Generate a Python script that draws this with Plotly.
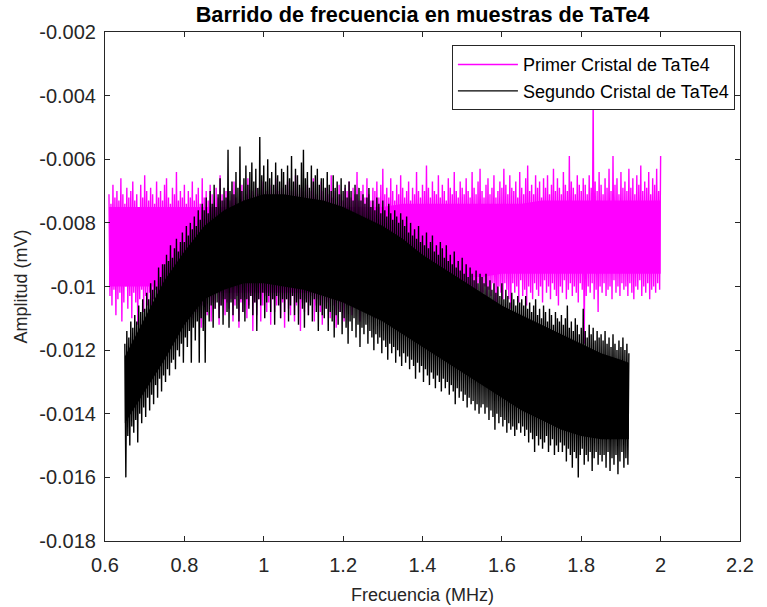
import numpy as np
import plotly.graph_objects as go

# ---------------- data ----------------
# Sweep ranges (MHz)
freq_start_1, freq_end_1 = 0.61, 2.00   # Primer Cristal
freq_start_2, freq_end_2 = 0.65, 1.92   # Segundo Cristal

# Primer Cristal: noise peaks (every 0.005 MHz from 0.61) and troughs (every 0.005 MHz from 0.6125), mV
peaks_1 = [
    -0.0071,-0.0074,-0.0068,-0.0072,-0.0070,-0.0073,-0.0066,-0.0071,-0.0074,-0.0069,-0.0072,-0.0070,-0.0067,-0.0073,-0.0071,-0.0075,-0.0068,-0.0072,-0.0065,-0.0070,
    -0.0073,-0.0069,-0.0071,-0.0074,-0.0067,-0.0072,-0.0070,-0.0073,-0.0068,-0.0066,-0.0072,-0.0074,-0.0069,-0.0071,-0.0064,-0.0073,-0.0070,-0.0072,-0.0068,-0.0074,
    -0.0070,-0.0072,-0.0067,-0.0073,-0.0071,-0.0069,-0.0074,-0.0066,-0.0072,-0.0070,-0.0073,-0.0068,-0.0071,-0.0074,-0.0069,-0.0072,-0.0065,-0.0071,-0.0073,-0.0070,
    -0.0069,-0.0073,-0.0071,-0.0067,-0.0072,-0.0074,-0.0070,-0.0068,-0.0073,-0.0071,-0.0066,-0.0072,-0.0070,-0.0074,-0.0069,-0.0071,-0.0073,-0.0067,-0.0072,-0.0070,
    -0.0072,-0.0068,-0.0071,-0.0074,-0.0066,-0.0070,-0.0073,-0.0069,-0.0072,-0.0071,-0.0067,-0.0074,-0.0070,-0.0072,-0.0065,-0.0071,-0.0073,-0.0069,-0.0070,-0.0072,
    -0.0068,-0.0073,-0.0070,-0.0066,-0.0072,-0.0071,-0.0074,-0.0067,-0.0070,-0.0073,-0.0069,-0.0071,-0.0065,-0.0072,-0.0070,-0.0074,-0.0068,-0.0071,-0.0073,-0.0069,
    -0.0070,-0.0067,-0.0072,-0.0069,-0.0071,-0.0064,-0.0073,-0.0070,-0.0068,-0.0072,-0.0066,-0.0071,-0.0073,-0.0069,-0.0070,-0.0067,-0.0072,-0.0068,-0.0063,-0.0071,
    -0.0069,-0.0072,-0.0066,-0.0070,-0.0073,-0.0068,-0.0071,-0.0065,-0.0069,-0.0072,-0.0070,-0.0067,-0.0073,-0.0069,-0.0071,-0.0064,-0.0070,-0.0072,-0.0068,-0.0070,
    -0.0062,-0.0069,-0.0072,-0.0067,-0.0070,-0.0071,-0.0065,-0.0072,-0.0068,-0.0070,-0.0073,-0.0066,-0.0069,-0.0071,-0.0064,-0.0070,-0.0072,-0.0067,-0.0069,-0.0071,
    -0.0066,-0.0070,-0.0072,-0.0064,-0.0069,-0.0071,-0.0067,-0.0063,-0.0070,-0.0072,-0.0068,-0.0066,-0.0071,-0.0069,-0.0065,-0.0072,-0.0070,-0.0067,-0.0069,-0.0063,
    -0.0068,-0.0071,-0.0065,-0.0069,-0.0070,-0.0067,-0.0072,-0.0064,-0.0069,-0.0071,-0.0066,-0.0062,-0.0070,-0.0068,-0.0071,-0.0065,-0.0069,-0.0067,-0.0072,-0.0066,
    -0.0069,-0.0065,-0.0071,-0.0068,-0.0063,-0.0070,-0.0066,-0.0069,-0.0071,-0.0064,-0.0068,-0.0070,-0.0059,-0.0067,-0.0069,-0.0071,-0.0065,-0.0068,-0.0070,-0.0066,
    -0.0068,-0.0071,-0.0065,-0.0069,-0.0041,-0.0067,-0.0070,-0.0064,-0.0068,-0.0071,-0.0066,-0.0069,-0.0063,-0.0070,-0.0059,-0.0068,-0.0066,-0.0071,-0.0064,-0.0069,
    -0.0067,-0.0070,-0.0063,-0.0069,-0.0066,-0.0071,-0.0065,-0.0068,-0.0062,-0.0070,-0.0067,-0.0069,-0.0064,-0.0071,-0.0066,-0.0068,-0.0063,-0.0070,-0.0059,
]
troughs_1 = [
    -0.0103,-0.0106,-0.0101,-0.0109,-0.0104,-0.0102,-0.0111,-0.0105,-0.0100,-0.0107,-0.0103,-0.0110,-0.0102,-0.0105,-0.0112,-0.0104,-0.0101,-0.0108,-0.0103,-0.0106,
    -0.0102,-0.0109,-0.0104,-0.0101,-0.0107,-0.0111,-0.0103,-0.0105,-0.0100,-0.0108,-0.0104,-0.0102,-0.0110,-0.0106,-0.0103,-0.0109,-0.0101,-0.0105,-0.0112,-0.0104,
    -0.0106,-0.0103,-0.0110,-0.0105,-0.0108,-0.0102,-0.0113,-0.0106,-0.0104,-0.0109,-0.0103,-0.0111,-0.0105,-0.0107,-0.0102,-0.0112,-0.0106,-0.0104,-0.0109,-0.0105,
    -0.0107,-0.0104,-0.0111,-0.0106,-0.0103,-0.0113,-0.0105,-0.0108,-0.0104,-0.0110,-0.0106,-0.0103,-0.0114,-0.0105,-0.0109,-0.0104,-0.0111,-0.0106,-0.0103,-0.0108,
    -0.0105,-0.0112,-0.0104,-0.0108,-0.0106,-0.0103,-0.0110,-0.0105,-0.0113,-0.0104,-0.0107,-0.0109,-0.0103,-0.0111,-0.0106,-0.0104,-0.0114,-0.0105,-0.0108,-0.0104,
    -0.0109,-0.0105,-0.0103,-0.0111,-0.0106,-0.0104,-0.0108,-0.0112,-0.0103,-0.0107,-0.0105,-0.0110,-0.0104,-0.0106,-0.0113,-0.0103,-0.0108,-0.0105,-0.0111,-0.0104,
    -0.0106,-0.0102,-0.0109,-0.0104,-0.0101,-0.0107,-0.0111,-0.0103,-0.0105,-0.0100,-0.0108,-0.0104,-0.0102,-0.0110,-0.0103,-0.0106,-0.0101,-0.0109,-0.0104,-0.0102,
    -0.0105,-0.0101,-0.0108,-0.0103,-0.0106,-0.0100,-0.0110,-0.0102,-0.0104,-0.0107,-0.0101,-0.0105,-0.0103,-0.0109,-0.0100,-0.0104,-0.0106,-0.0102,-0.0108,-0.0101,
    -0.0103,-0.0100,-0.0106,-0.0102,-0.0099,-0.0108,-0.0101,-0.0104,-0.0100,-0.0103,-0.0107,-0.0101,-0.0099,-0.0105,-0.0102,-0.0100,-0.0106,-0.0101,-0.0104,-0.0099,
    -0.0102,-0.0105,-0.0100,-0.0103,-0.0107,-0.0101,-0.0099,-0.0104,-0.0102,-0.0100,-0.0106,-0.0101,-0.0103,-0.0099,-0.0105,-0.0107,-0.0100,-0.0102,-0.0104,-0.0099,
    -0.0101,-0.0104,-0.0107,-0.0099,-0.0102,-0.0100,-0.0105,-0.0098,-0.0103,-0.0101,-0.0106,-0.0100,-0.0102,-0.0104,-0.0099,-0.0101,-0.0103,-0.0100,-0.0105,-0.0098,
    -0.0102,-0.0100,-0.0104,-0.0099,-0.0101,-0.0103,-0.0106,-0.0100,-0.0102,-0.0098,-0.0104,-0.0101,-0.0099,-0.0103,-0.0100,-0.0102,-0.0105,-0.0099,-0.0101,-0.0118,
    -0.0103,-0.0100,-0.0102,-0.0099,-0.0104,-0.0101,-0.0108,-0.0100,-0.0102,-0.0099,-0.0103,-0.0101,-0.0100,-0.0104,-0.0098,-0.0102,-0.0100,-0.0103,-0.0099,-0.0101,
    -0.0100,-0.0103,-0.0099,-0.0102,-0.0104,-0.0100,-0.0101,-0.0098,-0.0103,-0.0100,-0.0102,-0.0099,-0.0104,-0.0101,-0.0100,-0.0102,-0.0099,-0.0101,
]

# Segundo Cristal: noise peaks (every 0.005 MHz from 0.65) and troughs (every 0.005 MHz from 0.6525), mV
peaks_2 = [
    -0.0118,-0.0114,-0.0116,-0.0111,-0.0113,-0.0109,-0.0111,-0.0106,-0.0108,-0.0104,-0.0107,-0.0102,-0.0104,-0.0099,-0.0101,-0.0098,-0.0100,-0.0094,-0.0097,-0.0093,
    -0.0093,-0.0090,-0.0092,-0.0087,-0.0091,-0.0088,-0.0085,-0.0089,-0.0086,-0.0083,-0.0086,-0.0081,-0.0084,-0.0080,-0.0082,-0.0078,-0.0081,-0.0076,-0.0079,-0.0074,
    -0.0076,-0.0072,-0.0077,-0.0070,-0.0074,-0.0068,-0.0075,-0.0071,-0.0066,-0.0073,-0.0069,-0.0072,-0.0057,-0.0070,-0.0067,-0.0071,-0.0064,-0.0069,-0.0056,-0.0070,
    -0.0066,-0.0062,-0.0068,-0.0064,-0.0061,-0.0067,-0.0063,-0.0069,-0.0053,-0.0065,-0.0062,-0.0067,-0.0060,-0.0066,-0.0064,-0.0068,-0.0061,-0.0065,-0.0067,-0.0063,
    -0.0064,-0.0068,-0.0062,-0.0066,-0.0059,-0.0067,-0.0063,-0.0065,-0.0068,-0.0061,-0.0057,-0.0066,-0.0064,-0.0069,-0.0062,-0.0067,-0.0065,-0.0063,-0.0068,-0.0066,
    -0.0066,-0.0069,-0.0064,-0.0068,-0.0070,-0.0065,-0.0069,-0.0067,-0.0071,-0.0066,-0.0070,-0.0068,-0.0072,-0.0067,-0.0070,-0.0073,-0.0068,-0.0071,-0.0069,-0.0073,
    -0.0071,-0.0074,-0.0072,-0.0069,-0.0075,-0.0073,-0.0076,-0.0072,-0.0074,-0.0077,-0.0073,-0.0076,-0.0078,-0.0074,-0.0077,-0.0079,-0.0076,-0.0078,-0.0080,-0.0077,
    -0.0079,-0.0081,-0.0078,-0.0083,-0.0080,-0.0084,-0.0082,-0.0085,-0.0081,-0.0086,-0.0084,-0.0087,-0.0083,-0.0088,-0.0086,-0.0084,-0.0089,-0.0087,-0.0090,-0.0086,
    -0.0088,-0.0091,-0.0087,-0.0092,-0.0090,-0.0093,-0.0089,-0.0094,-0.0092,-0.0095,-0.0091,-0.0096,-0.0093,-0.0097,-0.0094,-0.0096,-0.0098,-0.0095,-0.0099,-0.0096,
    -0.0097,-0.0099,-0.0096,-0.0100,-0.0098,-0.0101,-0.0099,-0.0102,-0.0100,-0.0103,-0.0099,-0.0104,-0.0101,-0.0103,-0.0105,-0.0102,-0.0104,-0.0106,-0.0103,-0.0105,
    -0.0104,-0.0106,-0.0103,-0.0107,-0.0105,-0.0108,-0.0106,-0.0104,-0.0109,-0.0107,-0.0110,-0.0106,-0.0108,-0.0111,-0.0107,-0.0109,-0.0112,-0.0108,-0.0110,-0.0111,
    -0.0109,-0.0112,-0.0110,-0.0106,-0.0113,-0.0111,-0.0114,-0.0110,-0.0112,-0.0115,-0.0113,-0.0107,-0.0114,-0.0116,-0.0112,-0.0115,-0.0113,-0.0117,-0.0114,-0.0116,
    -0.0115,-0.0117,-0.0114,-0.0118,-0.0116,-0.0119,-0.0115,-0.0118,-0.0120,-0.0117,-0.0119,-0.0116,-0.0120,-0.0118,-0.0121,
]
troughs_2 = [
    -0.0160,-0.0147,-0.0150,-0.0144,-0.0146,-0.0142,-0.0149,-0.0140,-0.0143,-0.0138,-0.0141,-0.0135,-0.0139,-0.0134,-0.0137,-0.0131,-0.0135,-0.0129,-0.0133,-0.0128,
    -0.0130,-0.0126,-0.0128,-0.0124,-0.0123,-0.0126,-0.0120,-0.0122,-0.0118,-0.0124,-0.0116,-0.0119,-0.0114,-0.0124,-0.0113,-0.0117,-0.0111,-0.0124,-0.0110,-0.0114,
    -0.0124,-0.0108,-0.0111,-0.0106,-0.0113,-0.0107,-0.0105,-0.0110,-0.0106,-0.0112,-0.0104,-0.0108,-0.0113,-0.0105,-0.0109,-0.0104,-0.0107,-0.0111,-0.0104,-0.0108,
    -0.0111,-0.0104,-0.0107,-0.0103,-0.0109,-0.0105,-0.0114,-0.0104,-0.0106,-0.0102,-0.0110,-0.0105,-0.0103,-0.0108,-0.0104,-0.0112,-0.0103,-0.0106,-0.0110,-0.0104,
    -0.0108,-0.0104,-0.0111,-0.0106,-0.0103,-0.0109,-0.0105,-0.0112,-0.0104,-0.0107,-0.0113,-0.0105,-0.0109,-0.0106,-0.0111,-0.0104,-0.0108,-0.0114,-0.0106,-0.0109,
    -0.0110,-0.0107,-0.0114,-0.0108,-0.0111,-0.0116,-0.0109,-0.0112,-0.0108,-0.0115,-0.0110,-0.0113,-0.0118,-0.0111,-0.0114,-0.0110,-0.0116,-0.0112,-0.0119,-0.0113,
    -0.0115,-0.0112,-0.0118,-0.0114,-0.0116,-0.0120,-0.0115,-0.0118,-0.0116,-0.0121,-0.0117,-0.0119,-0.0123,-0.0118,-0.0121,-0.0119,-0.0124,-0.0120,-0.0122,-0.0125,
    -0.0121,-0.0124,-0.0122,-0.0126,-0.0123,-0.0125,-0.0129,-0.0124,-0.0127,-0.0125,-0.0130,-0.0126,-0.0128,-0.0131,-0.0127,-0.0129,-0.0132,-0.0128,-0.0130,-0.0133,
    -0.0129,-0.0132,-0.0130,-0.0134,-0.0131,-0.0133,-0.0137,-0.0132,-0.0135,-0.0133,-0.0136,-0.0134,-0.0138,-0.0135,-0.0137,-0.0136,-0.0139,-0.0137,-0.0140,-0.0138,
    -0.0137,-0.0140,-0.0138,-0.0142,-0.0139,-0.0141,-0.0145,-0.0140,-0.0143,-0.0141,-0.0144,-0.0142,-0.0146,-0.0143,-0.0145,-0.0144,-0.0147,-0.0145,-0.0143,-0.0146,
    -0.0144,-0.0147,-0.0145,-0.0149,-0.0146,-0.0148,-0.0152,-0.0147,-0.0150,-0.0148,-0.0151,-0.0149,-0.0147,-0.0152,-0.0150,-0.0148,-0.0153,-0.0150,-0.0152,-0.0149,
    -0.0152,-0.0150,-0.0155,-0.0151,-0.0153,-0.0157,-0.0152,-0.0154,-0.0160,-0.0153,-0.0151,-0.0156,-0.0153,-0.0155,-0.0152,-0.0158,-0.0154,-0.0152,-0.0156,-0.0153,
    -0.0155,-0.0153,-0.0157,-0.0152,-0.0158,-0.0154,-0.0156,-0.0153,-0.0159,-0.0155,-0.0152,-0.0157,-0.0154,-0.0156,
]

# Dense (solid) core of each noisy trace: upper / lower edge every 0.05 MHz
core_freq_1 = [0.61, 0.65, 0.70, 0.75, 0.80, 0.85, 0.90, 0.95, 1.00, 1.05, 1.10, 1.15, 1.20, 1.25, 1.30,
               1.35, 1.40, 1.45, 1.50, 1.55, 1.60, 1.65, 1.70, 1.75, 1.80, 1.85, 1.90, 1.95, 2.00]
core_hi_1 = [-0.0075, -0.0075, -0.0075, -0.0075, -0.0075, -0.0075, -0.0075, -0.0075, -0.0075, -0.0075,
             -0.0075, -0.0075, -0.0075, -0.0075, -0.0075, -0.0074, -0.0074, -0.0074, -0.0074, -0.0074,
             -0.0074, -0.0074, -0.0073, -0.0073, -0.0073, -0.0073, -0.0073, -0.0073, -0.0073]
core_lo_1 = [-0.0100, -0.0100, -0.0100, -0.0100, -0.0100, -0.0102, -0.0102, -0.0102, -0.0102, -0.0102,
             -0.0102, -0.0102, -0.0102, -0.0100, -0.0099, -0.0099, -0.0098, -0.0097, -0.0097, -0.0097,
             -0.0096, -0.0096, -0.0096, -0.0096, -0.0096, -0.0096, -0.0096, -0.0096, -0.0096]

core_freq_2 = [0.65, 0.70, 0.75, 0.80, 0.85, 0.90, 0.95, 1.00, 1.05, 1.10, 1.15, 1.20, 1.25, 1.30,
               1.35, 1.40, 1.45, 1.50, 1.55, 1.60, 1.65, 1.70, 1.75, 1.80, 1.85, 1.90, 1.92]
core_hi_2 = [-0.0122, -0.0110, -0.0098, -0.0089, -0.0081, -0.0076, -0.0073, -0.0071, -0.0071, -0.0072,
             -0.0073, -0.0075, -0.0078, -0.0081, -0.0085, -0.0090, -0.0094, -0.0098, -0.0102, -0.0106,
             -0.0109, -0.0112, -0.0115, -0.0118, -0.0121, -0.0123, -0.0124]
core_lo_2 = [-0.0143, -0.0133, -0.0123, -0.0112, -0.0104, -0.0101, -0.0099, -0.0099, -0.0100, -0.0101,
             -0.0103, -0.0105, -0.0108, -0.0111, -0.0115, -0.0119, -0.0123, -0.0127, -0.0131, -0.0135,
             -0.0139, -0.0142, -0.0145, -0.0147, -0.0148, -0.0148, -0.0148]

series_names = ["Primer Cristal de TaTe4", "Segundo Cristal de TaTe4"]
series_colors = ["#FF00FF", "#000000"]

x_ticks = [0.6, 0.8, 1.0, 1.2, 1.4, 1.6, 1.8, 2.0, 2.2]
x_ticklabels = ["0.6", "0.8", "1", "1.2", "1.4", "1.6", "1.8", "2", "2.2"]
y_ticks = [-0.018, -0.016, -0.014, -0.012, -0.010, -0.008, -0.006, -0.004, -0.002]
y_ticklabels = ["-0.018", "-0.016", "-0.014", "-0.012", "-0.01", "-0.008", "-0.006", "-0.004", "-0.002"]

# ---------------- figure ----------------
def interleave(peaks, troughs):
    out = []
    for i, p in enumerate(peaks):
        out.append(p)
        if i < len(troughs):
            out.append(troughs[i])
    return out

amp_1 = interleave(peaks_1, troughs_1)
amp_2 = interleave(peaks_2, troughs_2)
freq_1 = np.linspace(freq_start_1, freq_end_1, len(amp_1))
freq_2 = np.linspace(freq_start_2, freq_end_2, len(amp_2))

fig = go.Figure()

def add_series(freq, amp, cf, chi, clo, name, color):
    fig.add_trace(go.Scatter(
        x=list(cf) + list(cf)[::-1], y=list(chi) + list(clo)[::-1],
        mode="lines", fill="toself", fillcolor=color,
        line=dict(width=0, color=color), showlegend=False, hoverinfo="skip"))
    fig.add_trace(go.Scatter(
        x=freq, y=amp, mode="lines", name=name,
        line=dict(color=color, width=1.4)))

add_series(freq_1, amp_1, core_freq_1, core_hi_1, core_lo_1, series_names[0], series_colors[0])
add_series(freq_2, amp_2, core_freq_2, core_hi_2, core_lo_2, series_names[1], series_colors[1])

axis_color = "#262626"
font_family = "Liberation Sans, Arial, Helvetica, sans-serif"

fig.update_layout(
    width=767, height=607,
    margin=dict(l=105, r=27, t=32, b=66),
    paper_bgcolor="white", plot_bgcolor="white",
    font=dict(family=font_family, color=axis_color, size=19),
    title=dict(text="<b>Barrido de frecuencia en muestras de TaTe4</b>",
               x=0.5, xref="paper", xanchor="center",
               y=1 - 14 / 607, yref="container", yanchor="middle",
               font=dict(size=21.7, color="#000000")),
    showlegend=True,
    legend=dict(x=0.992, y=0.974, xanchor="right", yanchor="top",
                bgcolor="white", bordercolor=axis_color, borderwidth=1,
                font=dict(size=18, color="#000000"), itemwidth=60,
                tracegroupgap=0),
    xaxis=dict(
        range=[0.6, 2.2], tickvals=x_ticks, ticktext=x_ticklabels, automargin=False,
        showgrid=False, zeroline=False, showline=True, linecolor=axis_color, linewidth=1,
        mirror="ticks", ticks="inside", ticklen=5, tickcolor=axis_color,
        tickfont=dict(size=20, color=axis_color), ticklabelstandoff=6,
        title=dict(text="Frecuencia (MHz)", font=dict(size=18, color=axis_color), standoff=13),
    ),
    yaxis=dict(
        range=[-0.018, -0.002], tickvals=y_ticks, ticktext=y_ticklabels, automargin=False,
        showgrid=False, zeroline=False, showline=True, linecolor=axis_color, linewidth=1,
        mirror="ticks", ticks="inside", ticklen=5, tickcolor=axis_color,
        tickfont=dict(size=20, color=axis_color), ticklabelstandoff=4,
        title=dict(text="Amplitud (mV)", font=dict(size=18, color=axis_color), standoff=6),
    ),
)

fig.write_html("out.html", config={"displayModeBar": False},
               post_script="document.body.style.margin='0';")
